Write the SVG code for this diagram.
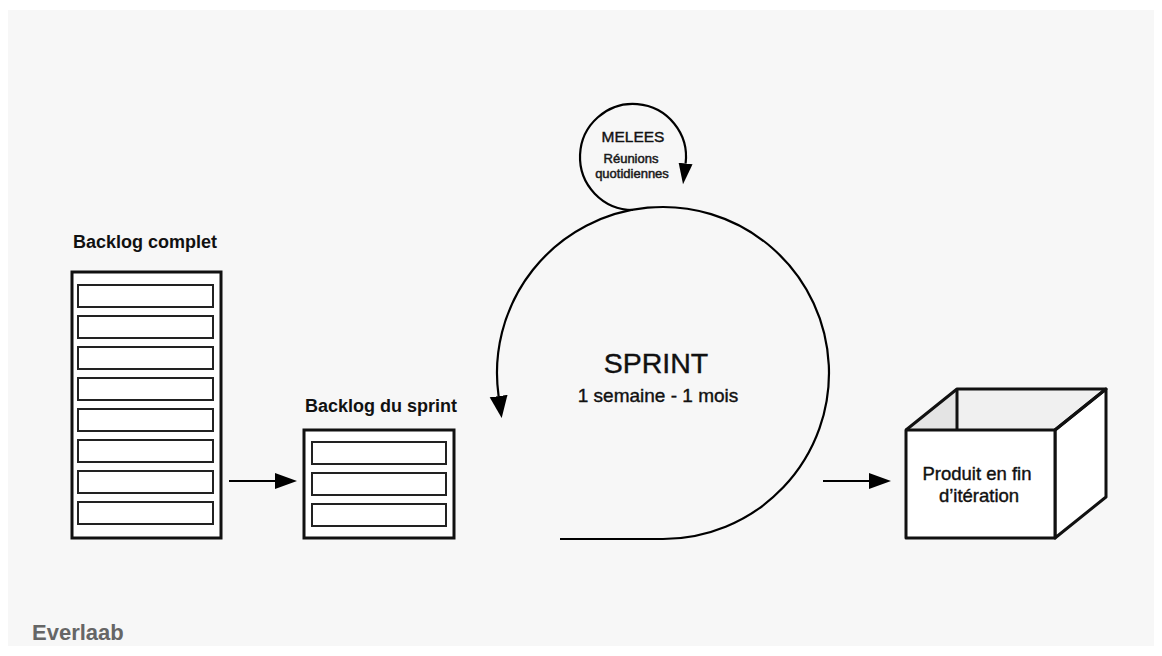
<svg xmlns="http://www.w3.org/2000/svg" width="1162" height="656" viewBox="0 0 1162 656">
  <style>
    .t { font-family: "Liberation Sans", Arial, Helvetica, sans-serif; fill: #111; }
    .r { stroke: #111; stroke-width: 0.4; }
    .m { stroke: #222; stroke-width: 0.5; }
    .b { font-weight: bold; }
    .outer { fill: #fff; stroke: #111; stroke-width: 3; }
    .row { fill: #fff; stroke: #222; stroke-width: 2; }
    .line { fill: none; stroke: #000; stroke-width: 2.2; }
    .box { stroke: #111; stroke-width: 3; stroke-linejoin: round; }
  </style>
  <defs>
    <marker id="ahBig" markerUnits="userSpaceOnUse" markerWidth="24" markerHeight="20" refX="0" refY="9" orient="auto">
      <path d="M0,0 L22,9 L0,18 z" fill="#000"/>
    </marker>
    <marker id="ahSmall" markerUnits="userSpaceOnUse" markerWidth="24" markerHeight="16" refX="0" refY="7" orient="auto">
      <path d="M0,0 L21,7 L0,14 z" fill="#000"/>
    </marker>
    <marker id="ahStraight" markerUnits="userSpaceOnUse" markerWidth="24" markerHeight="18" refX="0" refY="8" orient="auto">
      <path d="M0,0 L22,8 L0,16 z" fill="#000"/>
    </marker>
  </defs>

  <rect x="0" y="0" width="1162" height="656" fill="#fff"/>
  <rect x="8" y="10" width="1146" height="636" fill="#f7f7f7"/>

  <g id="backlog-complet">
    <text class="t b" x="73" y="248" font-size="18">Backlog complet</text>
    <rect class="outer" x="72" y="272" width="149" height="266"/>
    <rect class="row" x="78" y="285" width="135" height="22"/>
    <rect class="row" x="78" y="316" width="135" height="22"/>
    <rect class="row" x="78" y="347" width="135" height="22"/>
    <rect class="row" x="78" y="378" width="135" height="22"/>
    <rect class="row" x="78" y="409" width="135" height="22"/>
    <rect class="row" x="78" y="440" width="135" height="22"/>
    <rect class="row" x="78" y="471" width="135" height="22"/>
    <rect class="row" x="78" y="502" width="135" height="22"/>
  </g>

  <g id="backlog-sprint">
    <text class="t b" x="305" y="412" font-size="18">Backlog du sprint</text>
    <rect class="outer" x="304" y="430" width="150" height="108"/>
    <rect class="row" x="312" y="442" width="134" height="22"/>
    <rect class="row" x="312" y="473" width="134" height="22"/>
    <rect class="row" x="312" y="504" width="134" height="22"/>
  </g>

  <g id="sprint">
    <text class="t r" x="656" y="373" font-size="28.5" text-anchor="middle">SPRINT</text>
    <text class="t r" x="658" y="402" font-size="19" text-anchor="middle">1 semaine - 1 mois</text>
  </g>

  <g id="melees">
    <text class="t r" x="633" y="142" font-size="15.5" text-anchor="middle">MELEES</text>
    <text class="t m" x="631" y="163" font-size="13" text-anchor="middle">Réunions</text>
    <text class="t m" x="632" y="178" font-size="13" text-anchor="middle">quotidiennes</text>
  </g>

  <g id="produit">
    <polygon points="957,389 1106,389 1055,430 957,430" fill="#f0f0f0"/>
    <polygon points="906,430 957,389 957,430" fill="#e4e4e4"/>
    <line x1="957" y1="389" x2="957" y2="430" stroke="#111" stroke-width="3"/>
    <polygon class="box" points="1055,430 1106,389 1106,497 1055,538" fill="#fff"/>
    <polyline class="box" points="906,430 957,389 1106,389 1055,430" fill="none"/>
    <rect class="box" x="906" y="430" width="149" height="108" fill="#fff"/>
    <text class="t r" x="977" y="480" font-size="18.5" text-anchor="middle">Produit en fin</text>
    <text class="t r" x="979" y="502" font-size="18.5" text-anchor="middle">d’itération</text>
  </g>

  <g id="connectors">
    <line class="line" x1="229" y1="481" x2="275" y2="481" marker-end="url(#ahStraight)"/>
    <path class="line" d="M560,539 L663,539 A166,166 0 1 0 498.6,396.1" marker-end="url(#ahBig)"/>
    <path class="line" d="M633,210 A53,53 0 1 1 685.6,163.5" marker-end="url(#ahSmall)"/>
    <line class="line" x1="823" y1="481" x2="869" y2="481" marker-end="url(#ahStraight)"/>
  </g>

  <text class="t b" x="32" y="640" font-size="22" style="fill:#666">Everlaab</text>
</svg>
